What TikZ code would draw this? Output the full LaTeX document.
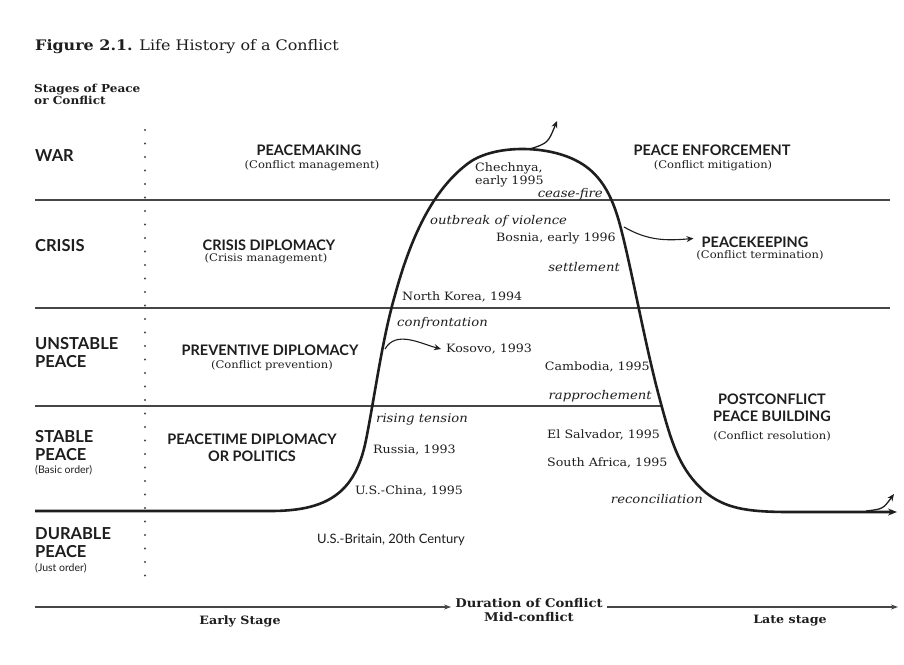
\documentclass[tikz,border=0pt]{standalone}
\usepackage{fontspec}
\setmainfont[FakeStretch=1.1]{DejaVu Serif}
\newfontfamily\capsfont{Lato}
\usepackage{xcolor}
\usetikzlibrary{arrows.meta}
\definecolor{inkgray}{RGB}{30,30,30}
\definecolor{rulegray}{RGB}{70,70,70}
\definecolor{papergray}{RGB}{255,255,255}

\begin{document}
\begin{tikzpicture}[x=1pt,y=-1pt,
    stagename/.style={font=\capsfont\bfseries\fontsize{16.5}{18}\selectfont,inkgray,align=left,anchor=west,inner sep=0pt},
    stagenote/.style={font=\capsfont\fontsize{10.5}{11}\selectfont,inkgray,anchor=west,inner sep=0pt},
    policy/.style={font=\capsfont\bfseries\fontsize{14.5}{17}\selectfont,inkgray,align=center,inner sep=0pt},
    policynote/.style={font=\fontsize{10.5}{11}\selectfont,inkgray,inner sep=0pt},
    case/.style={font=\fontsize{11.5}{13}\selectfont,inkgray,align=left,inner sep=0pt},
    phase/.style={font=\itshape\fontsize{12}{13}\selectfont,inkgray,inner sep=0pt},
    level/.style={rulegray,line width=1.1pt},
    lifecurve/.style={inkgray,line width=2.6pt,line join=round},
    branch/.style={inkgray,line width=1.3pt,-{Stealth[length=7pt,width=6pt]}},
    axis/.style={rulegray,line width=1.2pt,-{Stealth[length=7pt,width=5pt]}}]
    \useasboundingbox[fill=papergray] (0,0) rectangle (904,664);

    % Title
    \node[font=\fontsize{14.5}{16}\selectfont,inkgray,anchor=west,inner sep=0pt] (title) at (35,47)
        {\textbf{Figure 2.1.} Life History of a Conflict};
    \node[font=\bfseries\fontsize{11}{12}\selectfont,inkgray,align=left,anchor=north west,inner sep=0pt] (stages) at (34,84)
        {Stages of Peace\\or Conflict};

    % Levels
    \draw[level] (35,200) -- (890,200);
    \draw[level] (35,308) -- (890,308);
    \draw[level] (35,406) -- (662,406);
    \draw[rulegray,line width=2.2pt,line cap=round,dash pattern=on 0pt off 13.5pt] (145,130) -- (145,585);

    % Stage names
    \node[stagename] (war) at (35,156) {WAR};
    \node[stagename] (crisis) at (35,246) {CRISIS};
    \node[stagename] (unstable) at (35,353) {UNSTABLE\\PEACE};
    \node[stagename] (stable) at (35,446) {STABLE\\PEACE};
    \node[stagenote] (basic) at (35,470) {(Basic order)};
    \node[stagename] (durable) at (35,543) {DURABLE\\PEACE};
    \node[stagenote] (just) at (35,568) {(Just order)};

    % Policies
    \node[policy] (making) at (309,150) {PEACEMAKING};
    \node[policynote] (makingnote) at (312,166) {(Conflict management)};
    \node[policy] (enforce) at (712,150) {PEACE ENFORCEMENT};
    \node[policynote] (enforcenote) at (713,166) {(Conflict mitigation)};
    \node[policy] (diplomacy) at (269,245) {CRISIS DIPLOMACY};
    \node[policynote] (diplomacynote) at (266,259) {(Crisis management)};
    \node[policy] (keeping) at (755,242) {PEACEKEEPING};
    \node[policynote] (keepingnote) at (760,255) {(Conflict termination)};
    \node[policy] (preventive) at (270,350) {PREVENTIVE DIPLOMACY};
    \node[policynote] (preventivenote) at (272,366) {(Conflict prevention)};
    \node[policy] (peacetime) at (252,448) {PEACETIME DIPLOMACY\\OR POLITICS};
    \node[policy] (building) at (772,408) {POSTCONFLICT\\PEACE BUILDING};
    \node[policynote] (buildingnote) at (772,436) {(Conflict resolution)};

    % Life curve
    \draw[lifecurve,-{Stealth[length=9pt,width=7pt]}] (35,511) -- (270,511)
        .. controls (325,511) and (355,495) .. (366,440)
        .. controls (375,395) and (382,340) .. (395,295)
        .. controls (410,240) and (432,189) .. (470,162)
        .. controls (495,145) and (545,145) .. (575,160)
        .. controls (600,172) and (612,195) .. (620,225)
        .. controls (632,270) and (645,345) .. (660,400)
        .. controls (672,445) and (680,470) .. (705,492)
        .. controls (725,508) and (745,512) .. (790,512) -- (897,512);
    \coordinate (topstart) at (530,149);
    \coordinate (topend) at (557,121);
    \draw[branch] (topstart) .. controls (548,143) .. (topend);
    \coordinate (latestart) at (866,511);
    \coordinate (lateend) at (894,494);
    \draw[branch] (latestart) .. controls (883,509) .. (lateend);

    % Cases and phases
    \node[case,anchor=west] (chechnya) at (475,175) {Chechnya,\\early 1995};
    \node[phase,anchor=east] (ceasefire) at (603,194) {cease-fire};
    \node[phase,anchor=west] (outbreak) at (430,221) {outbreak of violence};
    \node[case,anchor=east] (bosnia) at (616,238) {Bosnia, early 1996};
    \node[phase,anchor=east] (settlement) at (620,267) {settlement};
    \node[case,anchor=west] (korea) at (402,297) {North Korea, 1994};
    \node[phase,anchor=west] (confront) at (397,323) {confrontation};
    \node[case,anchor=west] (kosovo) at (446,349) {Kosovo, 1993};
    \node[case,anchor=east] (cambodia) at (650,367) {Cambodia, 1995};
    \node[phase,anchor=east] (rapproche) at (652,396) {rapprochement};
    \node[phase,anchor=west] (tension) at (376,419) {rising tension};
    \node[case,anchor=west] (russia) at (373,450) {Russia, 1993};
    \node[case,anchor=west] (salvador) at (547,435) {El Salvador, 1995};
    \node[case,anchor=west] (safrica) at (547,463) {South Africa, 1995};
    \node[case,anchor=west] (uschina) at (355,491) {U.S.-China, 1995};
    \node[phase,anchor=east] (reconcile) at (703,499) {reconciliation};
    \node[font=\capsfont\fontsize{13}{14}\selectfont,inkgray,anchor=west,inner sep=0pt] (britain) at (317,540)
        {U.S.-Britain, 20th Century};

    % Escalation arrows
    \coordinate (kosovostart) at (385,349);
    \draw[branch,line width=1.1pt] (kosovostart) to[out=60,in=165] ([xshift=-5pt]kosovo.west);
    \coordinate (keepstart) at (624,227);
    \draw[branch,line width=1.1pt] (keepstart) to[out=-30,in=185] ([xshift=-8pt,yshift=-2pt]keeping.north west);

    % Duration axis
    \node[font=\bfseries\fontsize{12}{14}\selectfont,inkgray,align=center,inner sep=4pt] (duration) at (529,610)
        {Duration of Conflict\\Mid-conflict};
    \coordinate (axisleft) at (35,607);
    \coordinate (axisright) at (898,607);
    \draw[axis] (axisleft) -- (duration.west |- axisleft);
    \draw[axis] (duration.east |- axisright) -- (axisright);
    \node[font=\bfseries\fontsize{11.5}{12}\selectfont,inkgray,inner sep=0pt] (early) at (240,621) {Early Stage};
    \node[font=\bfseries\fontsize{11.5}{12}\selectfont,inkgray,inner sep=0pt] (late) at (790,621) {Late stage};
\end{tikzpicture}
\end{document}
